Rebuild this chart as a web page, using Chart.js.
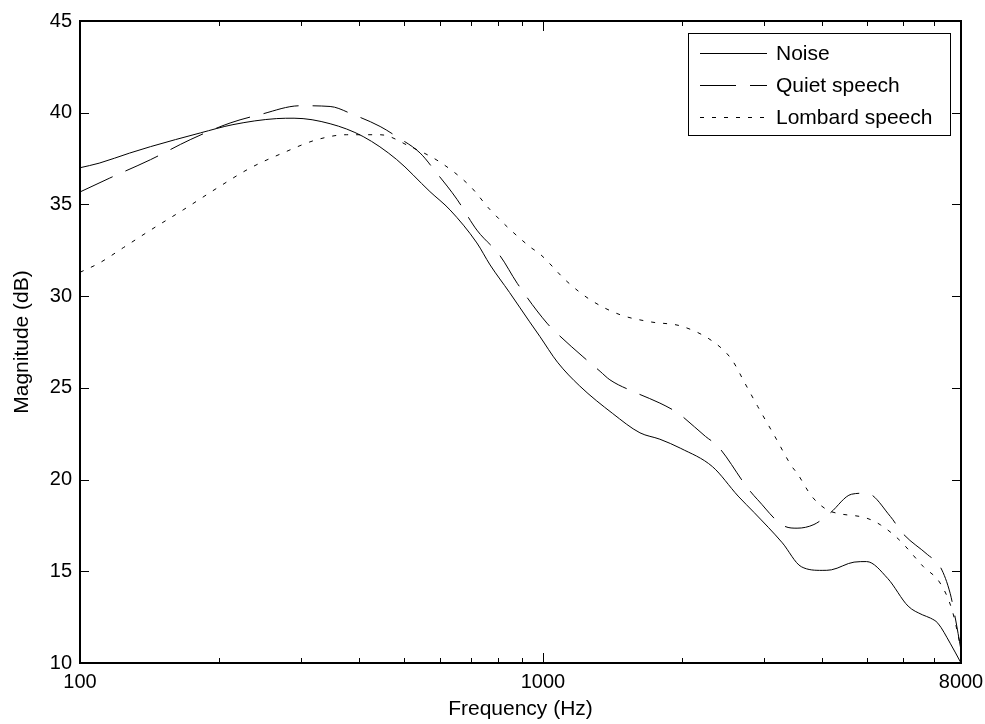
<!DOCTYPE html>
<html><head><meta charset="utf-8">
<script src="https://cdn.jsdelivr.net/npm/chart.js@4.4.1/dist/chart.umd.min.js"></script>
<style>html,body{margin:0;padding:0;background:#fff}#wrap{width:985px;height:724px}</style>
</head><body><div id="wrap"><canvas id="c" width="985" height="724"></canvas></div>
<script>
const noiseFreq = [100,110,128,142,182,214,266,290,347,409,483,570,630,720,769,847,936,985,1075,1201,1415,1620,1789,1985,2325,2640,2860,3290,3615,4010,4200,4700,5000,5560,6150,6600,6870,7130,7580,8000];
const noiseDb   = [37.0,37.25,37.8,38.15,38.9,39.35,39.68,39.7,39.4,38.7,37.45,35.7,34.7,32.9,31.7,30.2,28.6,27.8,26.4,25.1,23.6,22.55,22.2,21.7,20.7,19.1,18.2,16.55,15.25,15.05,15.08,15.5,15.53,14.6,13.1,12.63,12.45,12.17,11.08,10.0];

const quietFreq = [100,116,142,173,211,245,299,347,389,445,483,543,590,621,653,720,808,880,1020,1080,1220,1329,1395,1600,1789,1955,2245,2390,2770,2910,3330,3540,3850,4170,4640,5000,5630,5980,6780,7210,7580,7770,8000];
const quietDb   = [35.68,36.44,37.44,38.53,39.44,39.9,40.38,40.34,39.9,39.25,38.7,37.8,36.7,36.0,35.26,33.6,32.2,30.7,28.53,27.9,26.7,25.9,25.44,24.7,24.17,23.63,22.35,21.8,19.53,18.9,17.45,17.35,17.55,18.17,19.2,19.26,17.99,17.08,15.9,15.26,13.8,12.5,10.7];

const lombardFreq = [100,110,124,142,167,198,233,274,325,377,445,516,600,697,769,936,985,1127,1266,1467,1705,2000,2355,2560,2730,2910,3170,3450,3540,3810,4110,4310,5000,5360,5880,6630,7210,7650,8000];
const lombardDb   = [31.3,31.8,32.64,33.6,34.7,35.9,36.98,37.8,38.53,38.8,38.8,38.16,37.3,35.98,34.71,32.7,32.3,30.8,29.8,28.99,28.6,28.35,27.44,26.53,25.26,23.99,22.35,20.71,20.35,19.08,18.35,18.17,17.9,17.53,16.72,15.26,14.36,12.9,10.8];

const seriesNames = ['Noise','Quiet speech','Lombard speech'];
const xTickValues = [100,200,300,400,500,600,700,800,900,1000,2000,3000,4000,5000,6000,7000,8000];
const xMajorTicks = [100,1000];
const xTickLabels = {100:'100',1000:'1000',8000:'8000'};
const yTickValues = [10,15,20,25,30,35,40,45];

const FONT = "'Liberation Sans', Arial, sans-serif";
const pts = (f, d) => f.map((v, i) => ({x: v, y: d[i]}));

const frameAndLegend = {
  id: 'frameAndLegend',
  afterDraw(chart) {
    const {ctx, chartArea: {left, right, top, bottom}, scales: {x, y}} = chart;
    ctx.save();
    ctx.strokeStyle = '#000';
    ctx.lineWidth = 1;
    const line = (x1, y1, x2, y2) => { ctx.beginPath(); ctx.moveTo(x1, y1); ctx.lineTo(x2, y2); ctx.stroke(); };
    xTickValues.forEach(v => {
      const px = Math.round(x.getPixelForValue(v)) + 0.5;
      const len = xMajorTicks.includes(v) ? 10 : 5;
      line(px, bottom, px, bottom - len);
      line(px, top, px, top + len);
    });
    yTickValues.forEach(v => {
      const py = Math.round(y.getPixelForValue(v)) + 0.5;
      line(left, py, left + 9, py);
      line(right, py, right - 9, py);
    });
    ctx.lineWidth = 2;
    ctx.strokeRect(Math.round(left), Math.round(top), Math.round(right - left), Math.round(bottom - top));

    // legend
    const bw = 262, bh = 102;
    const bx = Math.round(right) - 11 - bw, by = Math.round(top) + 12;
    ctx.fillStyle = '#fff';
    ctx.fillRect(bx, by, bw, bh);
    ctx.lineWidth = 1;
    ctx.strokeRect(bx + 0.5, by + 0.5, bw, bh);
    ctx.font = '21px ' + FONT;
    ctx.textBaseline = 'middle';
    ctx.textAlign = 'left';
    chart.data.datasets.forEach((ds, i) => {
      const ly = by + 20 + i * 32 + 0.5;
      ctx.setLineDash(ds.borderDash || []);
      ctx.lineWidth = 1;
      line(bx + 12, ly, bx + 79, ly);
      ctx.setLineDash([]);
      ctx.fillStyle = '#000';
      ctx.fillText(ds.label, bx + 88, ly + 1);
    });
    ctx.restore();
  }
};

new Chart(document.getElementById('c'), {
  type: 'line',
  data: {
    datasets: [
      {label: seriesNames[0], data: pts(noiseFreq, noiseDb), borderDash: []},
      {label: seriesNames[1], data: pts(quietFreq, quietDb), borderDash: [36, 14]},
      {label: seriesNames[2], data: pts(lombardFreq, lombardDb), borderDash: [4, 8]}
    ].map(d => Object.assign(d, {borderColor: '#000', borderWidth: 1, pointRadius: 0, fill: false, cubicInterpolationMode: 'monotone'}))
  },
  options: {
    responsive: false,
    animation: false,
    devicePixelRatio: 1,
    layout: {padding: {top: 21, right: 24, left: 0, bottom: 0}},
    plugins: {legend: {display: false}, tooltip: {enabled: false}},
    scales: {
      x: {
        type: 'logarithmic', min: 100, max: 8000,
        afterBuildTicks: s => { s.ticks = xTickValues.map(v => ({value: v})); },
        afterFit: s => { s.height = 61; s.paddingLeft = 0; s.paddingRight = 0; },
        grid: {display: false, drawTicks: false},
        border: {display: false},
        ticks: {autoSkip: false, maxRotation: 0, minRotation: 0, padding: 7, color: '#000',
          font: {family: FONT, size: 20}, callback: v => xTickLabels[v] || ''},
        title: {display: true, text: 'Frequency (Hz)', color: '#000', font: {family: FONT, size: 21}, padding: {top: 0, bottom: 2}}
      },
      y: {
        type: 'linear', min: 10, max: 45,
        afterBuildTicks: s => { s.ticks = yTickValues.map(v => ({value: v})); },
        afterFit: s => { s.width = 80; s.paddingTop = 0; s.paddingBottom = 0; },
        grid: {display: false, drawTicks: false},
        border: {display: false},
        ticks: {padding: 8, color: '#000', font: {family: FONT, size: 20}},
        title: {display: true, text: 'Magnitude (dB)', color: '#000', font: {family: FONT, size: 21}, padding: {top: 10, bottom: 0}}
      }
    }
  },
  plugins: [frameAndLegend]
});
</script></body></html>
